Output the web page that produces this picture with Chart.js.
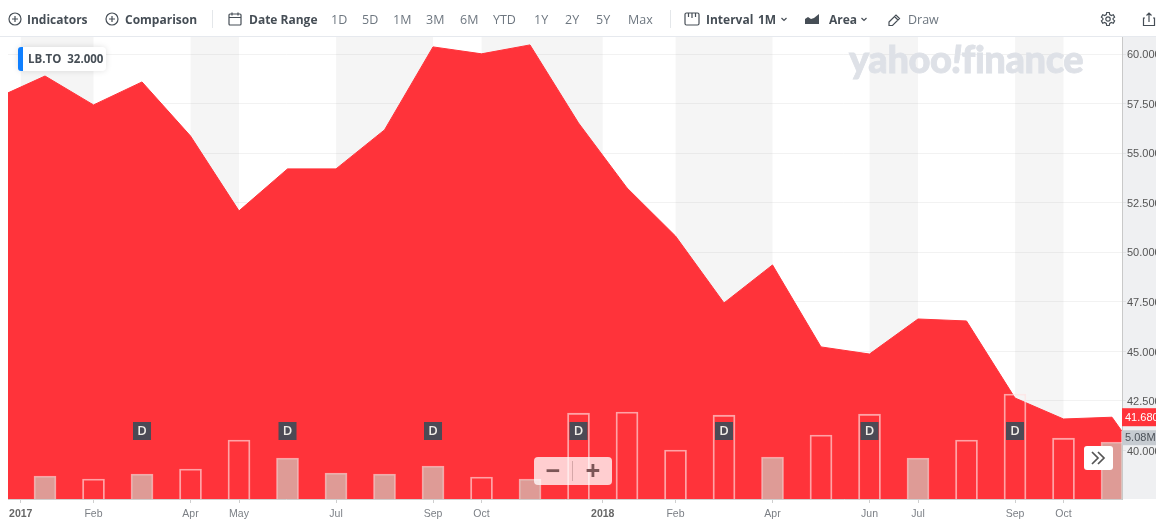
<!DOCTYPE html>
<html>
<head>
<meta charset="utf-8">
<title>LB.TO</title>
<script src="https://cdn.jsdelivr.net/npm/chart.js@4"></script>
<style>
body { margin: 0; background: #fff; }
#wrap { position: relative; width: 1156px; height: 519px; overflow: hidden; font-family: "Open Sans", sans-serif; }
#chart { position: absolute; left: 0; top: 0; }
.t { position: absolute; top: 11px; line-height: 18px; font-size: 12px; white-space: nowrap; }
.b { font-weight: 700; color: #464e56; }
.r { color: #6e7780; font-size: 12.5px; }
.ic { position: absolute; top: 11px; width: 16px; height: 16px; fill: none; stroke: #464e56; stroke-width: 1.2; }
.sep { position: absolute; top: 10px; width: 1px; height: 18px; background: #e4e7ea; }
#topline { position: absolute; left: 0; top: 36px; width: 1156px; height: 1px; background: #e6e9ee; }
#pill { position: absolute; left: 18px; top: 47px; width: 88px; height: 24px; background: #fff; border-radius: 4px; box-shadow: 0 0 6px rgba(0,0,0,.12); }
#pill i { position: absolute; left: 0; top: 0; width: 5px; height: 24px; background: #0f7fff; border-radius: 3px 0 0 3px; }
#pill span { position: absolute; left: 10px; top: 3px; font-size: 11.5px; line-height: 18px; font-weight: 700; color: #464e56; white-space: nowrap; }
#mark { position: absolute; left: 849px; top: 33px; font-family: Lato, sans-serif; font-weight: 900; font-size: 38px; line-height: 50px; letter-spacing: -.4px; color: #dee1e7; -webkit-text-stroke: .8px #dee1e7; white-space: nowrap; }
#mark em { font-style: italic; }
#zoomctl { position: absolute; left: 534px; top: 457px; width: 78px; height: 28px; background: rgba(255,255,255,.76); border-radius: 4px; color: #7c5557; font-weight: 700; font-size: 26px; line-height: 27px; }
#zoomctl span { position: absolute; top: 0; width: 38px; text-align: center; }
#zoomctl i { position: absolute; left: 38px; top: 4px; width: 1px; height: 20px; background: rgba(120,80,80,.3); }
#more { position: absolute; left: 1084px; top: 446px; width: 29px; height: 24px; background: #fff; border-radius: 3px; }
</style>
</head>
<body>
<div id="wrap">
	<canvas id="chart" width="1156" height="519"></canvas>
	<div id="topline"></div>

	<svg class="ic" style="left:7px" viewBox="0 0 16 16"><circle cx="8" cy="8" r="6"/><path d="M8 5v6M5 8h6"/></svg>
	<span class="t b" style="left:27px">Indicators</span>
	<svg class="ic" style="left:104px" viewBox="0 0 16 16"><circle cx="8" cy="8" r="6"/><path d="M8 5v6M5 8h6"/></svg>
	<span class="t b" style="left:125px">Comparison</span>
	<div class="sep" style="left:212px"></div>
	<svg class="ic" style="left:227px" viewBox="0 0 16 16"><rect x="2" y="3" width="12" height="11" rx="1"/><path d="M2 6.500h12M5 1.500v3M11 1.500v3"/></svg>
	<span class="t b" style="left:249px">Date Range</span>
	<span class="t r" style="left:331px">1D</span>
	<span class="t r" style="left:362px">5D</span>
	<span class="t r" style="left:393px">1M</span>
	<span class="t r" style="left:426px">3M</span>
	<span class="t r" style="left:460px">6M</span>
	<span class="t r" style="left:493px">YTD</span>
	<span class="t r" style="left:534px">1Y</span>
	<span class="t r" style="left:565px">2Y</span>
	<span class="t r" style="left:596px">5Y</span>
	<span class="t r" style="left:628px">Max</span>
	<div class="sep" style="left:670px"></div>
	<svg class="ic" style="left:684px" viewBox="0 0 16 16"><rect x="1" y="2" width="14" height="12" rx="1.500"/><path d="M4.500 2v4M8 2v5M11.500 2v4"/></svg>
	<span class="t b" style="left:706px">Interval</span>
	<span class="t b" style="left:758px">1M</span>
	<svg class="ic" style="left:776px" viewBox="0 0 16 16"><path d="M5.500 7l2.500 2.500 2.500-2.500"/></svg>
	<svg class="ic" style="left:804px;stroke:none;fill:#464e56" viewBox="0 0 16 16"><path d="M1 13V8l3-2 3 2 3-1 5-4v10z"/></svg>
	<span class="t b" style="left:829px">Area</span>
	<svg class="ic" style="left:856px" viewBox="0 0 16 16"><path d="M5.500 7l2.500 2.500 2.500-2.500"/></svg>
	<svg class="ic" style="left:887px" viewBox="0 0 16 16"><path d="M2 11l7-7 3.500 3.500-7 7H2zM7.500 5.500L11 9"/></svg>
	<span class="t r" style="left:908px">Draw</span>
	<svg class="ic" style="left:1100px" viewBox="0 0 16 16"><circle cx="8" cy="8" r="2.200"/><path d="M6.700 1.500h2.600l.4 2 1.700 1 1.900-.7 1.300 2.300-1.500 1.300v1.200l1.500 1.300-1.300 2.300-1.900-.7-1.700 1-.4 2H6.700l-.4-2-1.700-1-1.900.7-1.300-2.300 1.500-1.300V7.400L1.400 6.100l1.300-2.300 1.900.7 1.700-1z"/></svg>
	<svg class="ic" style="left:1141px" viewBox="0 0 16 16"><path d="M4 7H2.500v7.500h11V7H12M8 11V2M5.500 4.500L8 2l2.500 2.500"/></svg>

	<div id="pill"><i></i><span>LB.TO&nbsp; 32.000</span></div>
	<div id="mark">yahoo<em>!</em>finance</div>
	<div id="zoomctl"><span style="left:0">&minus;</span><i></i><span style="left:40px">+</span></div>
	<div id="more"><svg width="29" height="24" viewBox="0 0 29 24" fill="none" stroke="#555" stroke-width="1.700"><path d="M8 6l6 6-6 6M14 6l6 6-6 6"/></svg></div>
</div>

<script>
// 월 위치 (0 = 2017년 1월)
var priceMonths = [-0.763, 0, 1, 2, 3, 4, 5, 6, 7, 8, 9, 10, 11, 12, 13, 14, 15, 16, 17, 18, 19, 20, 21, 22, 22.2];
var priceValues = [58.06, 58.91, 57.45, 58.61, 55.88, 52.10, 54.22, 54.22, 56.19, 60.38, 60.03, 60.48, 56.54, 53.26, 50.83, 47.45, 49.37, 45.23, 44.87, 46.64, 46.54, 42.65, 41.59, 41.68, 40.99];

var volumeMonths = [0, 1, 2, 3, 4, 5, 6, 7, 8, 9, 10, 11, 12, 13, 14, 15, 16, 17, 18, 19, 20, 21, 22];
var volumeValues = [2.05, 1.78, 2.23, 2.67, 5.26, 3.65, 2.32, 2.23, 2.94, 1.96, 1.78, 7.66, 7.75, 4.37, 7.48, 3.74, 5.70, 7.57, 3.65, 5.26, 9.36, 5.43, 5.08];
var volumeFilled = [1, 0, 1, 0, 0, 1, 1, 1, 1, 0, 1, 0, 0, 0, 0, 1, 0, 0, 1, 0, 0, 0, 1];

var xTickValues = [-0.5, 1, 3, 4, 6, 8, 9, 11.5, 13, 15, 17, 18, 20, 21];
var xTickLabels = ['2017', 'Feb', 'Apr', 'May', 'Jul', 'Sep', 'Oct', '2018', 'Feb', 'Apr', 'Jun', 'Jul', 'Sep', 'Oct'];
var yTickValues = [40, 42.5, 45, 47.5, 50, 52.5, 55, 57.5, 60];

var stripeStarts = [-0.5, 3, 6, 9, 13, 17, 20];
var stripeEnds = [1, 4, 8, 11.5, 15, 18, 21];
var dividendMonths = [2, 5, 8, 11, 14, 17, 20];

var lastPrice = 41.68;
var lastPriceLabel = '41.680';
var lastVolumeLabel = '5.08M';

// 배경 줄무늬와 D 표시, 오른쪽 현재값 라벨
var decorPlugin = {
	id: 'decor',
	beforeDatasetsDraw: function(chart) {
		var c = chart.ctx, x = chart.scales.x, a = chart.chartArea;
		c.save();
		c.fillStyle = 'rgba(0,0,0,0.04)';
		stripeStarts.forEach(function(s, i) {
			var l = x.getPixelForValue(s), r = x.getPixelForValue(stripeEnds[i]);
			c.fillRect(l, a.top, r - l, a.bottom - a.top);
		});
		c.restore();
	},
	afterDatasetsDraw: function(chart) {
		var c = chart.ctx, x = chart.scales.x, y = chart.scales.y, a = chart.chartArea;
		c.save();
		// 배당 표시
		dividendMonths.forEach(function(m) {
			var px = x.getPixelForValue(m);
			c.fillStyle = '#4c4a55';
			c.fillRect(px - 9, 422, 18, 18);
			c.fillStyle = '#f0ece6';
			c.font = '600 13px "Open Sans"';
			c.textAlign = 'center';
			c.textBaseline = 'middle';
			c.fillText('D', px, 431.5);
		});
		// 오른쪽 라벨
		var py = y.getPixelForValue(lastPrice);
		c.fillStyle = '#ff333a';
		c.fillRect(a.right, py - 9, 40, 18);
		c.fillStyle = '#c6cbd1';
		c.fillRect(a.right, py + 13, 40, 15);
		c.font = '11px "Liberation Sans"';
		c.textAlign = 'left';
		c.fillStyle = '#fff';
		c.fillText(lastPriceLabel, a.right + 3, py + 0.5);
		c.fillStyle = '#4b5158';
		c.fillText(lastVolumeLabel, a.right + 3, py + 20.5);
		c.restore();
	}
};

var ctx = document.getElementById('chart').getContext('2d');
new Chart(ctx, {
	type: 'line',
	plugins: [decorPlugin],
	data: {
		datasets: [{
			type: 'bar',
			order: 1,
			yAxisID: 'y2',
			data: volumeMonths.map(function(m, i) { return { x: m, y: volumeValues[i] }; }),
			barThickness: 22,
			backgroundColor: volumeFilled.map(function(f) { return f ? 'rgba(208,200,190,0.7)' : 'rgba(255,255,255,0)'; }),
			borderColor: 'rgba(255,225,225,0.65)',
			borderWidth: 1.2
		}, {
			type: 'line',
			order: 2,
			yAxisID: 'y',
			data: priceMonths.map(function(m, i) { return { x: m, y: priceValues[i] }; }),
			borderColor: '#ff333a',
			borderWidth: 1,
			backgroundColor: '#ff333a',
			fill: 'start',
			pointRadius: 0,
			tension: 0
		}]
	},
	options: {
		responsive: false,
		animation: false,
		layout: { padding: { left: 8, top: 37, right: 0, bottom: 0 } },
		plugins: { legend: { display: false }, tooltip: { enabled: false } },
		scales: {
			x: {
				type: 'linear',
				offset: false,
				min: -0.763,
				max: 22.206,
				afterBuildTicks: function(axis) {
					axis.ticks = xTickValues.map(function(v) { return { value: v }; });
				},
				afterFit: function(axis) { axis.height = 20; },
				grid: { drawOnChartArea: false, drawTicks: true, tickLength: 4, color: '#cfcfcf', offset: false },
				border: { color: '#cfcfcf' },
				ticks: {
					autoSkip: false,
					maxRotation: 0,
					padding: 5,
					callback: function(v, i) { return xTickLabels[i]; },
					color: function(c) { return c.index === 0 || c.index === 7 ? '#666' : '#7b7f85'; },
					font: function(c) {
						return { family: 'Liberation Sans', size: 10.5, weight: c.index === 0 || c.index === 7 ? 'bold' : 'normal' };
					}
				}
			},
			y: {
				position: 'right',
				min: 37.55,
				max: 60.88,
				backgroundColor: '#eff0f2',
				afterBuildTicks: function(axis) {
					axis.ticks = yTickValues.map(function(v) { return { value: v }; });
				},
				afterFit: function(axis) { axis.width = 34; },
				grid: { color: 'rgba(0,0,0,0.05)', tickLength: 4 },
				border: { color: '#c9c9c9' },
				ticks: {
					padding: 1,
					labelOffset: 1,
					color: '#555',
					font: { family: 'Liberation Sans', size: 11 },
					callback: function(v) { return v.toFixed(3); }
				}
			},
			y2: {
				display: false,
				min: 0,
				max: 41.2
			}
		}
	}
});
</script>
</body>
</html>
